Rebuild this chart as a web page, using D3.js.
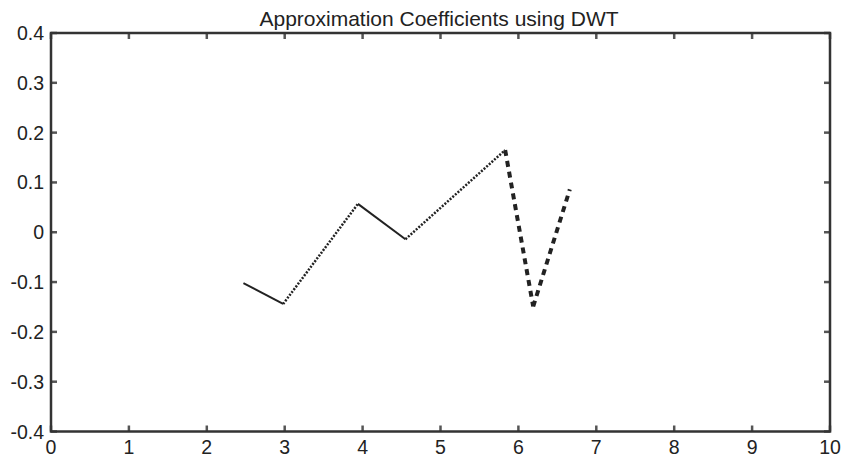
<!DOCTYPE html>
<html>
<head>
<meta charset="utf-8">
<script src="https://cdn.jsdelivr.net/npm/d3@7"></script>
<style>
  body { margin: 0; background: #fff; }
  text { font-family: "Liberation Sans", Arial, sans-serif; fill: #222; }
</style>
</head>
<body>
<svg id="chart" width="844" height="457"></svg>
<script>
// data
var xs = [2.47, 2.98, 3.94, 4.55, 5.83, 6.19, 6.66];
var ys = [-0.102, -0.144, 0.057, -0.014, 0.165, -0.149, 0.086];
// line style for each segment between points
var segStyle = ["solid", "dotted", "solid", "dotted", "dashed", "dashed"];
var xTicks = [0, 1, 2, 3, 4, 5, 6, 7, 8, 9, 10];
var yTicks = [-0.4, -0.3, -0.2, -0.1, 0, 0.1, 0.2, 0.3, 0.4];
var title = "Approximation Coefficients using DWT";

var svg = d3.select("#chart");
var mLeft = 51, mRight = 830, mTop = 33, mBottom = 431.5;

var x = d3.scaleLinear().domain([0, 10]).range([mLeft, mRight]);
var y = d3.scaleLinear().domain([-0.4, 0.4]).range([mBottom, mTop]);

// plain hyphen for negatives, like the original
function fmt(d) { return d === 0 ? "0" : d.toFixed(1); }

//ticks, inward on all four sides
var tl = 6;
var g = svg.append("g").attr("stroke", "#555").attr("stroke-width", 2.5);
xTicks.forEach(function(t) {
    g.append("line").attr("x1", x(t)).attr("x2", x(t)).attr("y1", mBottom).attr("y2", mBottom - tl);
    g.append("line").attr("x1", x(t)).attr("x2", x(t)).attr("y1", mTop).attr("y2", mTop + tl);
});
yTicks.forEach(function(t) {
    g.append("line").attr("x1", mLeft).attr("x2", mLeft + tl).attr("y1", y(t)).attr("y2", y(t));
    g.append("line").attr("x1", mRight).attr("x2", mRight - tl).attr("y1", y(t)).attr("y2", y(t));
});

//box
svg.append("rect")
    .attr("x", mLeft).attr("y", mTop)
    .attr("width", mRight - mLeft).attr("height", mBottom - mTop)
    .attr("fill", "none").attr("stroke", "#333").attr("stroke-width", 2.5);

//tick labels
svg.append("g").selectAll("text").data(xTicks).enter().append("text")
    .attr("x", function(d) { return x(d); })
    .attr("y", mBottom + 22)
    .attr("text-anchor", "middle")
    .attr("font-size", 19.5)
    .text(function(d) { return d; });

svg.append("g").selectAll("text").data(yTicks).enter().append("text")
    .attr("x", mLeft - 7)
    .attr("y", function(d) { return y(d) + 7; })
    .attr("text-anchor", "end")
    .attr("font-size", 19.5)
    .text(fmt);

svg.append("text")
    .attr("x", 439)
    .attr("y", 26)
    .attr("text-anchor", "middle")
    .attr("font-size", 21)
    .text(title);

//line segments
var dash = { solid: null, dotted: "2,1.5", dashed: "6,5" };
var width = { solid: 2, dotted: 2.5, dashed: 4 };
var line = d3.line().x(function(d) { return x(d[0]); }).y(function(d) { return y(d[1]); });
segStyle.forEach(function(s, i) {
    svg.append("path")
        .attr("d", line([[xs[i], ys[i]], [xs[i + 1], ys[i + 1]]]))
        .attr("fill", "none")
        .attr("stroke", "#222")
        .attr("stroke-width", width[s])
        .attr("stroke-dasharray", dash[s]);
});
</script>
</body>
</html>
